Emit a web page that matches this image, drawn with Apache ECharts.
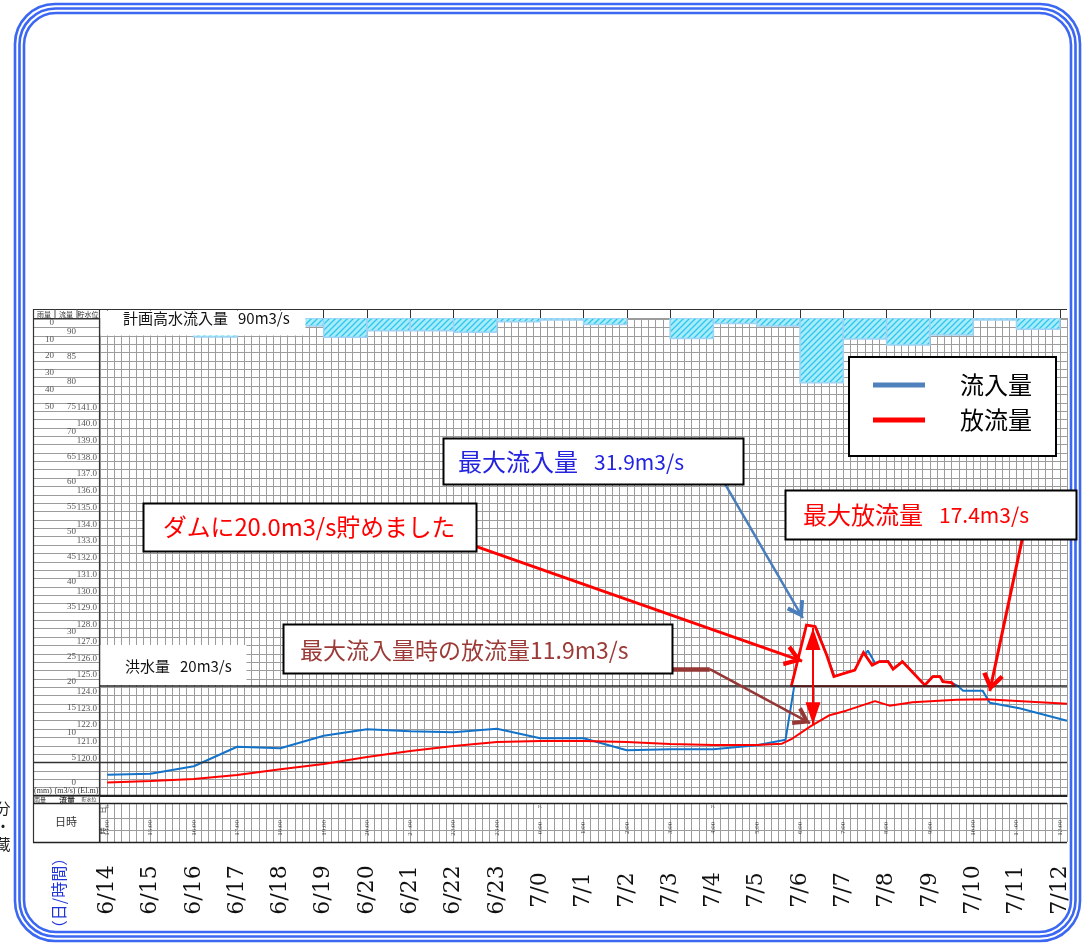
<!DOCTYPE html>
<html><head><meta charset="utf-8">
<script src="https://cdn.jsdelivr.net/npm/echarts@6/dist/echarts.min.js"></script>
<style>html,body{margin:0;padding:0;background:#fff}#c{width:1090px;height:945px}</style>
</head><body><div id="c"></div>
<script>
// ---------------- data ----------------
// x values are minutes after 14:00 on the first day
const hourLabels = ['14:00','15:00','16:00','17:00','18:00','19:00','20:00','21:00','22:00','23:00','0:00','1:00','2:00','3:00','4:00','5:00','6:00','7:00','8:00','9:00','10:00','11:00','12:00'];
const dateLabels = ['6/14','6/15','6/16','6/17','6/18','6/19','6/20','6/21','6/22','6/23','7/0','7/1','7/2','7/3','7/4','7/5','7/6','7/7','7/8','7/9','7/10','7/11','7/12'];
const dayMarks = [['6', 0], ['7', 10], ['7', 14]];            // day digit, hour index
// hourly rainfall (mm), hour blocks starting at 14:00 (null = hidden under the title box)
const rainMm = [null, null, 11.3, null, 4.8, 11.5, 7.6, 7.6, 8.5, 2.2, 1.2, 3.8, 0, 12.2, 3.2, 4.8, 38.5, 12.5, 16.1, 10.1, 1.2, 6.7];
// inflow (m3/s)
const inflow = [[0,2.3],[60,2.5],[120,4.0],[180,7.9],[240,7.6],[300,10.1],[360,11.4],[420,11.0],[480,10.8],[540,11.5],[600,9.6],[660,9.6],[720,7.2],[780,7.4],[840,7.4],[900,8.2],[940,9.3],[952,20.0],[970,31.9],[983,31.5],[1008,21.9],[1036,23.2],[1054,27.1],[1064,24.6],[1070,24.9],[1082,25.0],[1089,23.4],[1102,24.9],[1133,20.2],[1144,21.9],[1154,21.9],[1158,20.9],[1170,20.7],[1179,20.0],[1186,19.1],[1213,19.1],[1223,16.7],[1264,15.6],[1330,13.1]];
// release (m3/s)
const outflow = [[0,0.75],[60,1.05],[120,1.45],[180,2.25],[240,3.4],[300,4.45],[360,5.85],[420,7.05],[480,8.05],[540,8.85],[600,9.05],[660,9.05],[720,8.85],[780,8.45],[840,8.25],[900,8.25],[935,8.5],[948,9.4],[975,12.0],[1001,14.2],[1024,15.1],[1064,17.0],[1084,16.1],[1116,16.8],[1177,17.3],[1218,17.4],[1255,17.1],[1330,16.5]];
// storage outline (inflow above the flood flow, red polygon)
const storageOutline = [[948,20.0],[969,32.2],[981,31.9],[997,26.2],[1007,21.9],[1036,23.2],[1048,26.7],[1060,24.2],[1070,24.9],[1082,24.9],[1089,23.4],[1102,24.9],[1133,20.2],[1144,21.9],[1154,21.9],[1158,20.9],[1170,20.7],[1174,20.0]];
const flowTicks = [0,5,10,15,20,25,30,35,40,45,50,55,60,65,70,75,80,85,90];
const floodFlow = 20;
const refElevation = 120;
const planFlowText = ['計画高水流入量', '90m3/s'];
const floodText = ['洪水量', '20m3/s'];
const maxInText = ['最大流入量', '31.9m3/s'];
const storedText = 'ダムに20.0m3/s貯めました';
const maxOutText = ['最大放流量', '17.4m3/s'];
const outAtMaxText = '最大流入量時の放流量11.9m3/s';

// ---------------- chart ----------------
const chart = echarts.init(document.getElementById('c'));

const hatch = document.createElement('canvas');
hatch.width = 6; hatch.height = 6;
(function(){const g = hatch.getContext('2d');
 g.fillStyle = '#a8ecfa'; g.fillRect(0,0,6,6);
 g.strokeStyle = '#2fc6ee'; g.lineWidth = 1.3; g.beginPath();
 g.moveTo(0,6); g.lineTo(6,0); g.moveTo(-1,1); g.lineTo(1,-1); g.moveTo(5,7); g.lineTo(7,5); g.stroke();})();

const chevron = 'path://M10,-16 L10.01,-16 Z M0,14 L10,0 L20,14 L16.5,16 L10,6.5 L3.5,16 Z';
const tri = 'path://M10,-22 L10.01,-22 Z M10,0 L20,22 L0,22 Z';
const hourVals = hourLabels.map((_, i) => i * 60);

const gridCol = '#9c9c9c';
const serif = 'Liberation Serif';
const cjk = 'Noto Sans CJK JP';

const L = (x1,y1,x2,y2,c,w) => ({type:'line', silent:true, z:20, shape:{x1,y1,x2,y2}, style:{stroke:c||'#333', lineWidth:w||1}});
const T = (x,y,text,size,opt) => Object.assign({type:'text', silent:true, z:95, x, y, style:Object.assign({text, fontSize:size, fontFamily:cjk, fill:'#333', align:'center', verticalAlign:'middle'}, (opt&&opt.style)||{})}, opt&&opt.rot!=null?{rotation:opt.rot}:{});
const box = (x,y,w,h,z) => ({type:'rect', silent:true, z:z||100, shape:{x,y,width:w,height:h}, style:{fill:'#fff', stroke:'#000', lineWidth:2}});
const plain = (x,y,w,h) => ({type:'rect', silent:true, z:90, shape:{x,y,width:w,height:h}, style:{fill:'#fff', stroke:null}});
const richPair = (x, y, pair, color, s1, s2, gap) => ({type:'text', silent:true, z:101, x, y, style:{
  text:'{a|'+pair[0]+'}{b|'+pair[1]+'}', verticalAlign:'middle', align:'left',
  rich:{a:{fontSize:s1, fontFamily:cjk, fill:color}, b:{fontSize:s2, fontFamily:cjk, fill:color, padding:[0,0,0,gap]}}}});

const frameCol = '#3b67f2';
const graphic = [
  // outer triple frame
  {type:'rect', silent:true, z:1, shape:{x:15,y:4,width:1065,height:937,r:40}, style:{fill:null, stroke:frameCol, lineWidth:2.6}},
  {type:'rect', silent:true, z:1, shape:{x:19.5,y:8.5,width:1056,height:928,r:36}, style:{fill:null, stroke:frameCol, lineWidth:2.6}},
  {type:'rect', silent:true, z:1, shape:{x:24,y:13,width:1047,height:919,r:32}, style:{fill:null, stroke:frameCol, lineWidth:2.6}},
  // table lines
  L(33,309.5,1067,309.5,'#333',1.2),
  L(33,318.5,100,318.5,'#333',1),
  L(33.5,309,33.5,842.5,'#333',1.2),
  L(99.5,309,99.5,842.5,'#333',1.2),
  L(55,309,55,318.5,'#555',1),
  L(77,309,77,318.5,'#555',1),
  L(33,795.5,1067,795.5,'#222',1.3),
  L(33,803.5,1067,803.5,'#222',1.3),
  L(33,842.5,1067,842.5,'#222',1.3),
  L(100,818.5,1067,818.5,gridCol,1),
  L(100,830.5,1067,830.5,gridCol,1),
  // table texts
  T(44,314,'雨量',7), T(66,314,'流量',7), T(88,314,'貯水位',7),
  T(43,791,'(mm)',8,{style:{fontFamily:serif}}), T(65,791,'(m3/s)',8,{style:{fontFamily:serif}}), T(88,791,'(El.m)',8,{style:{fontFamily:serif}}),
  T(40,799.5,'雨量',6), T(67,799.5,'流量',8,{style:{fontWeight:'bold'}}), T(89,799.5,'貯水位',5),
  T(66,822,'日時',11),
  T(102.5,810,'日',7,{rot:Math.PI/2}), T(102.5,831,'時',7,{rot:Math.PI/2}),
  // axis title (day / hour)
  T(59,893,'（日/時間）',16,{rot:Math.PI/2, style:{fill:'#1f33d8'}}),
  T(3,826,'分\n・\n蔵',15,{style:{fill:'#222', lineHeight:18}}),
  // white title boxes
  plain(100.5,310.5,205,25),
  richPair(123,318,planFlowText,'#111',15,15,10),
  plain(100.5,645,146,40),
  richPair(125,666,floodText,'#111',15,15,10),
  // annotation boxes
  box(443.5,438.5,300,46),
  richPair(458,462,maxInText,'#2323e0',24,21,16),
  box(143.5,503.5,333,48),
  {type:'text', silent:true, z:101, x:163, y:527, style:{text:storedText, fontSize:23.8, fontFamily:cjk, fill:'#ff0000', verticalAlign:'middle', align:'left'}},
  box(785.5,490.5,291,49),
  richPair(803,515,maxOutText,'#ff0000',24,21,16),
  box(283.5,624.5,389,49),
  {type:'text', silent:true, z:101, x:300, y:650, style:{text:outAtMaxText, fontSize:23, fontFamily:cjk, fill:'#9b3a36', verticalAlign:'middle', align:'left'}}
];

const arrowLine = (a, b, color, width, head, size) => [
  {coord:a, symbol:'none', lineStyle:{color, width, type:'solid', opacity:1}},
  {coord:b, symbol:head||'none', symbolSize:size||[20,32], itemStyle:{color}}
];

const option = {
  animation: false,
  textStyle: {fontFamily: cjk},
  grid: [
    {left:100, top:318, width:967, height:478, outerBoundsMode:'none'},
    {left:33, top:318, width:67, height:478, outerBoundsMode:'none'},
    {left:100, top:803, width:967, height:39, outerBoundsMode:'none'}
  ],
  xAxis: [
    {gridIndex:0, type:'value', min:-10, max:1330, interval:10, axisLine:{show:true, onZero:false, lineStyle:{color:'#222', width:1.2}}, axisTick:{show:false}, axisLabel:{show:false}, splitLine:{show:true, lineStyle:{color:gridCol, width:1}}},
    {gridIndex:0, type:'value', position:'top', min:-10, max:1330, axisLine:{show:true, onZero:false, lineStyle:{color:gridCol, width:1}}, axisTick:{show:true, customValues:hourVals, length:9, lineStyle:{color:'#333', width:1}}, axisLabel:{show:false}, splitLine:{show:false}},
    {gridIndex:1, type:'value', min:0, max:1, show:false},
    {gridIndex:2, type:'value', min:-10, max:1330, interval:10, axisLine:{show:false}, axisTick:{show:false}, splitLine:{show:true, lineStyle:{color:gridCol, width:1}},
     axisLabel:{show:true, rotate:90, align:'center', verticalAlign:'middle', margin:48, fontFamily:'DejaVu Serif', fontSize:22, color:'#111', hideOverlap:false,
       formatter: v => (v >= 0 && Math.round(v) % 60 === 0) ? dateLabels[Math.round(v) / 60] : ''}}
  ],
  yAxis: [
    {gridIndex:0, type:'value', position:'left', min:-1.94, max:93.51, axisLine:{show:false}, axisTick:{show:false}, splitLine:{show:false},
     axisLabel:{customValues:flowTicks, margin:24, fontFamily:serif, fontSize:9, color:'#555', verticalAlign:'bottom', lineHeight:8}},
    {gridIndex:0, type:'value', position:'left', min:118, max:146.57, interval:0.5, axisLine:{show:false}, axisTick:{show:false}, splitLine:{show:true, lineStyle:{color:gridCol, width:1}},
     axisLabel:{margin:3, fontFamily:serif, fontSize:9, color:'#555', verticalAlign:'bottom', lineHeight:8,
       formatter: v => (Math.abs(v - Math.round(v)) < 1e-6 && v >= 120 && v <= 141) ? Math.round(v).toFixed(1) : ''}},
    {gridIndex:0, type:'value', position:'left', inverse:true, min:0, max:284.5, interval:10, axisLine:{show:false}, axisTick:{show:false}, splitLine:{show:false},
     axisLabel:{margin:46, fontFamily:serif, fontSize:9, color:'#555', verticalAlign:'top',
       formatter: v => (v <= 50 && Math.round(v) % 10 === 0) ? String(Math.round(v)) : ''}},
    {gridIndex:1, type:'value', min:118, max:146.57, interval:0.5, axisLine:{show:false}, axisTick:{show:false}, axisLabel:{show:false}, splitLine:{show:true, lineStyle:{color:gridCol, width:1}}},
    {gridIndex:2, type:'value', min:0, max:1, show:false}
  ],
  legend: {
    left:849, top:357, orient:'vertical', padding:[16,24,24,24], itemGap:11, itemWidth:52, itemHeight:5, icon:'rect',
    backgroundColor:'#fff', borderColor:'#000', borderWidth:2, borderRadius:0, selectedMode:false,
    textStyle:{fontSize:24, color:'#000', fontFamily:cjk, padding:[0,0,0,30]},
    data:[{name:'流入量', itemStyle:{color:'#4f81bd'}}, {name:'放流量', itemStyle:{color:'#ff0000'}}]
  },
  graphic: graphic,
  series: [
    {type:'custom', name:'雨量', xAxisIndex:0, yAxisIndex:2, silent:true, z:1, clip:true,
     data: rainMm.map((v, i) => [i * 60, v]),
     renderItem: (params, api) => {
       const t = api.value(0), v = api.value(1);
       if (!v) return null;
       const p0 = api.coord([t, 0]), p1 = api.coord([t + 60, v]);
       return {type:'rect', shape:{x:p0[0], y:p0[1], width:p1[0]-p0[0], height:p1[1]-p0[1]},
               style:{fill:{image:hatch, repeat:'repeat'}, stroke:'#9fd2f4', lineWidth:1.5}};
     }},
    {type:'line', name:'elevRef', xAxisIndex:0, yAxisIndex:1, data:[], silent:true,
     markLine:{silent:true, symbol:['none','none'], label:{show:false}, lineStyle:{color:'#333', width:1.3, type:'solid'}, data:[{yAxis:refElevation}]}},
    {type:'line', name:'elevRefTable', xAxisIndex:2, yAxisIndex:3, data:[], silent:true,
     markLine:{silent:true, symbol:['none','none'], label:{show:false}, lineStyle:{color:'#333', width:1.3, type:'solid'}, data:[{yAxis:refElevation}]}},
    {type:'line', name:'流入量', xAxisIndex:0, yAxisIndex:0, data:inflow, symbol:'none', z:3, silent:true,
     lineStyle:{color:'#1473c9', width:2}, itemStyle:{color:'#1473c9'},
     markLine:{silent:true, symbol:['none','none'], label:{show:false}, lineStyle:{color:'#222', width:1.5, type:'solid'}, data:[{yAxis:floodFlow}]}},
    {type:'custom', name:'storage', xAxisIndex:0, yAxisIndex:0, silent:true, z:4,
     data: storageOutline,
     renderItem: (params, api) => {
       if (params.dataIndex !== 0) return null;
       const pts = storageOutline.map(p => api.coord(p));
       return {type:'group', children:[
         {type:'polygon', shape:{points:pts}, style:{fill:'#fff', stroke:'#ff0000', lineWidth:1.6}},
         {type:'polyline', shape:{points:pts}, style:{fill:null, stroke:'#ff0000', lineWidth:2.8}}
       ]};
     }},
    {type:'line', name:'放流量', xAxisIndex:0, yAxisIndex:0, data:outflow, symbol:'none', z:5, silent:true,
     lineStyle:{color:'#ff0000', width:2}, itemStyle:{color:'#ff0000'},
     markLine:{silent:true, z:6, symbol:['none','none'], label:{show:false}, emphasis:{disabled:true},
       data:[
         arrowLine([856,60.4],[964,33.6],'#4a7ebb',2.5,chevron,[20,34]),
         arrowLine([505,48.2],[963,25.0],'#ff0000',3,chevron,[22,36]),
         arrowLine([1268,49.4],[1223,19.0],'#ff0000',3,chevron,[22,36]),
         arrowLine([784,23.4],[835,23.4],'#953735',4.5),
         arrowLine([835,23.4],[974,12.6],'#953735',2.5,chevron,[20,34]),
         [{coord:[978,31.6], symbol:tri, symbolSize:[15,44], itemStyle:{color:'#ff0000'}, lineStyle:{color:'#ff0000', width:2, type:'solid'}},
          {coord:[978,12.4], symbol:tri, symbolSize:[15,44], itemStyle:{color:'#ff0000'}}]
       ]}},
    {type:'scatter', name:'hours', xAxisIndex:3, yAxisIndex:4, silent:true, symbolSize:1, itemStyle:{color:'transparent'},
     data: hourVals.map(v => [v, 0.26]),
     label:{show:true, position:'inside', rotate:90, offset:[4,0], fontSize:7, fontFamily:serif, color:'#222', formatter: p => hourLabels[p.dataIndex]}},
    {type:'scatter', name:'days', xAxisIndex:3, yAxisIndex:4, silent:true, symbolSize:1, itemStyle:{color:'transparent'},
     data: dayMarks.map(d => [d[1] * 60, 0.8]),
     label:{show:true, position:'inside', rotate:90, offset:[4,0], fontSize:7, fontFamily:serif, color:'#444', formatter: p => dayMarks[p.dataIndex][0]}}
  ]
};
chart.setOption(option);
</script></body></html>
